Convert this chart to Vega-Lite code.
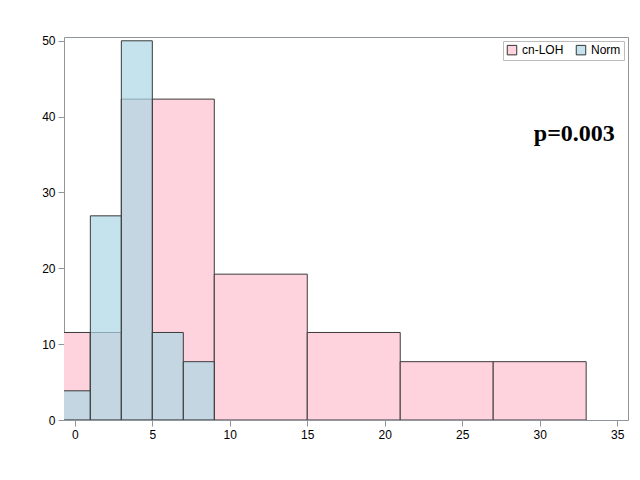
{
  "$schema": "https://vega.github.io/schema/vega-lite/v6.json",
  "width": 564,
  "height": 383,
  "autosize": {"type": "none"},
  "padding": {"left": 64, "top": 37, "right": 12, "bottom": 60},
  "background": "white",
  "config": {
    "view": {"stroke": "#8f959a", "strokeWidth": 1},
    "font": "Liberation Sans",
    "axis": {"grid": false, "domain": false, "tickColor": "#8f959a", "labelColor": "#000000", "labelFontSize": 12, "tickSize": 6, "labelPadding": 3, "title": null}
  },
  "datasets": {
    "bars": [
      {"group": "cn-LOH", "start": -1, "end": 1, "pct": 11.54},
      {"group": "cn-LOH", "start": 1, "end": 3, "pct": 11.54},
      {"group": "cn-LOH", "start": 3, "end": 5, "pct": 42.31},
      {"group": "cn-LOH", "start": 5, "end": 9, "pct": 42.31},
      {"group": "cn-LOH", "start": 9, "end": 15, "pct": 19.23},
      {"group": "cn-LOH", "start": 15, "end": 21, "pct": 11.54},
      {"group": "cn-LOH", "start": 21, "end": 27, "pct": 7.69},
      {"group": "cn-LOH", "start": 27, "end": 33, "pct": 7.69},
      {"group": "Norm", "start": -1, "end": 1, "pct": 3.85},
      {"group": "Norm", "start": 1, "end": 3, "pct": 26.92},
      {"group": "Norm", "start": 3, "end": 5, "pct": 50},
      {"group": "Norm", "start": 5, "end": 7, "pct": 11.54},
      {"group": "Norm", "start": 7, "end": 9, "pct": 7.69}
    ],
    "label": [{"x": 34.85, "y": 36.8, "text": "p=0.003"}]
  },
  "layer": [
    {
      "data": {"name": "bars"},
      "mark": {"type": "bar", "stroke": "#3a3a3a", "strokeWidth": 1, "clip": true},
      "encoding": {
        "x": {"field": "start", "type": "quantitative", "scale": {"domain": [-0.7, 35.7], "nice": false, "zero": false}, "axis": {"values": [0, 5, 10, 15, 20, 25, 30, 35]}},
        "x2": {"field": "end"},
        "y": {"field": "pct", "type": "quantitative", "stack": null, "scale": {"domain": [0, 50.5], "nice": false}, "axis": {"values": [0, 10, 20, 30, 40, 50]}},
        "y2": {"datum": 0},
        "color": {"field": "group", "type": "nominal",
          "scale": {"domain": ["cn-LOH", "Norm"], "range": ["#FFD3DD", "rgba(171,215,228,0.7)"]},
          "legend": {"title": null, "orient": "top-right", "direction": "horizontal", "symbolType": "square", "symbolSize": 90, "symbolStrokeColor": "#333333", "symbolStrokeWidth": 1, "symbolOpacity": 1, "labelFontSize": 12, "labelColor": "#000000", "strokeColor": "#bdbdbd", "padding": 3, "offset": 4, "columnPadding": 10, "fillColor": "white"}}
      }
    },
    {
      "data": {"name": "label"},
      "mark": {"type": "text", "font": "Liberation Serif", "fontWeight": "bold", "fontSize": 24, "align": "right", "baseline": "alphabetic", "color": "#000000"},
      "encoding": {
        "x": {"field": "x", "type": "quantitative"},
        "y": {"field": "y", "type": "quantitative"},
        "text": {"field": "text"}
      }
    }
  ]
}
